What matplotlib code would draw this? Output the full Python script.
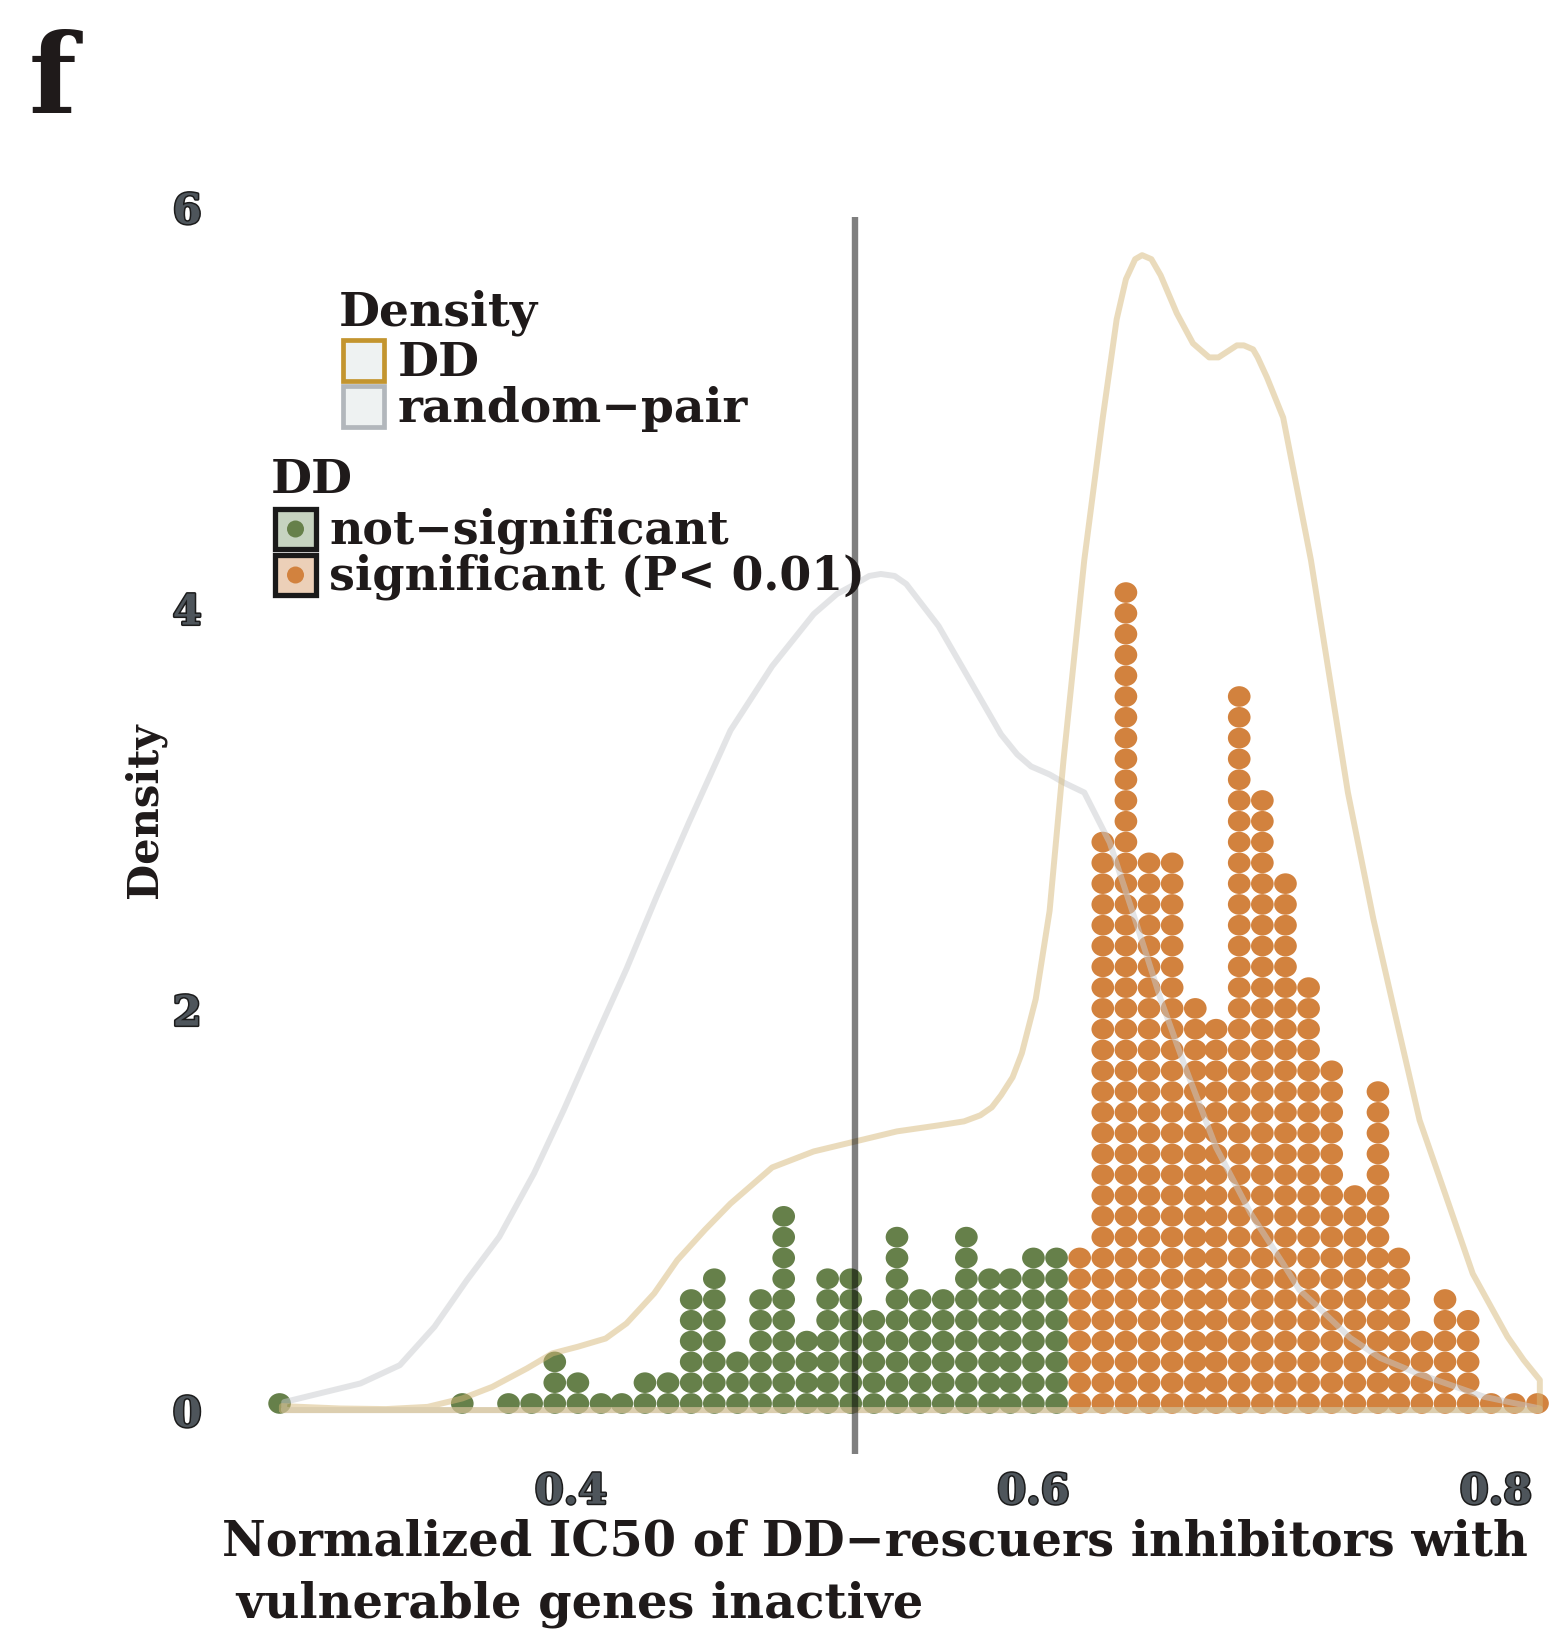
import matplotlib
matplotlib.use("Agg")
import matplotlib.pyplot as plt
import matplotlib.patheffects as pe
from matplotlib.patches import Ellipse, Rectangle, Circle
from matplotlib.transforms import Affine2D

# dot columns: bin centre and number of drugs stacked in it
green_x = [0.274, 0.353, 0.373, 0.383, 0.393, 0.403, 0.413, 0.422, 0.432, 0.442,
           0.452, 0.462, 0.472, 0.482, 0.492, 0.502, 0.511, 0.521, 0.531, 0.541,
           0.551, 0.561, 0.571, 0.581, 0.590, 0.600, 0.610]
green_n = [1, 1, 1, 1, 3, 2, 1, 1, 2, 2,
           6, 7, 3, 6, 10, 4, 7, 7, 5, 9,
           6, 6, 9, 7, 7, 8, 8]
orange_x = [0.620, 0.630, 0.640, 0.650, 0.660, 0.670, 0.679, 0.689, 0.699, 0.709,
            0.719, 0.729, 0.739, 0.749, 0.758, 0.768, 0.778, 0.788, 0.798, 0.808,
            0.818]
orange_n = [8, 28, 40, 27, 27, 20, 19, 35, 30, 26,
            21, 17, 11, 16, 8, 4, 6, 5, 1, 1,
            1]

# density curves
dd_x = [0.275, 0.300, 0.320, 0.338, 0.353, 0.366, 0.381, 0.392, 0.403, 0.415,
        0.424, 0.436, 0.446, 0.458, 0.469, 0.487, 0.505, 0.523, 0.541, 0.559,
        0.570, 0.577, 0.582, 0.586, 0.591, 0.595, 0.601, 0.607, 0.613, 0.622,
        0.630, 0.636, 0.640, 0.644, 0.647, 0.651, 0.655, 0.662, 0.669, 0.676,
        0.680, 0.684, 0.688, 0.691, 0.695, 0.697, 0.701, 0.708, 0.720, 0.736,
        0.747, 0.757, 0.767, 0.777, 0.790, 0.805, 0.812, 0.819]
dd_y = [0.02, 0.008, 0.005, 0.016, 0.058, 0.116, 0.208, 0.283, 0.316, 0.357,
        0.432, 0.582, 0.748, 0.90, 1.03, 1.21, 1.29, 1.34, 1.39, 1.42,
        1.44, 1.47, 1.51, 1.57, 1.66, 1.78, 2.05, 2.49, 3.24, 4.24,
        4.95, 5.44, 5.64, 5.74, 5.76, 5.74, 5.66, 5.47, 5.32, 5.25,
        5.25, 5.28, 5.31, 5.31, 5.29, 5.25, 5.15, 4.95, 4.24, 3.08,
        2.45, 1.945, 1.446, 1.114, 0.68, 0.366, 0.25, 0.15]
rp_x = [0.276, 0.309, 0.326, 0.341, 0.355, 0.369, 0.384, 0.397, 0.410, 0.424,
        0.437, 0.451, 0.469, 0.487, 0.505, 0.515, 0.523, 0.529, 0.534, 0.540,
        0.545, 0.559, 0.572, 0.586, 0.593, 0.599, 0.607, 0.613, 0.622, 0.633,
        0.645, 0.655, 0.665, 0.679, 0.694, 0.708, 0.715, 0.723, 0.737, 0.750,
        0.766, 0.795, 0.819]
rp_y = [0.04, 0.133, 0.224, 0.416, 0.648, 0.864, 1.18, 1.50, 1.84, 2.20,
        2.56, 2.93, 3.39, 3.71, 3.97, 4.07, 4.12, 4.16, 4.17, 4.16,
        4.12, 3.91, 3.65, 3.37, 3.27, 3.21, 3.17, 3.13, 3.08, 2.83,
        2.41, 2.05, 1.73, 1.31, 0.98, 0.73, 0.60, 0.515, 0.36, 0.26,
        0.183, 0.066, 0.008]

cutoff = 0.523
xticks = [0.4, 0.6, 0.8]
yticks = [0, 2, 4, 6]

W, H = 1550, 1634
FONT = "DejaVu Serif"
GREEN = "#66804a"
ORANGE = "#d2823e"

fig = plt.figure(figsize=(W / 100, H / 100), dpi=100)
# pixel coords measured from top-left corner
px = Affine2D().scale(1 / W, -1 / H).translate(0, 1) + fig.transFigure

ax = fig.add_axes([210 / W, (H - 1454) / H, 1 - 210 / W, (1454 - 195) / H])
ax.set_xlim(0.2439, 0.8234)
ax.set_ylim(-0.219, 6.06)

# dot stacks
dot_w, dot_h, step, y0 = 0.0098, 0.103, 0.1037, 0.033
for xs, ns, col in [(green_x, green_n, GREEN), (orange_x, orange_n, ORANGE)]:
    for x, n in zip(xs, ns):
        for k in range(n):
            ax.add_patch(Ellipse((x, y0 + k * step), dot_w, dot_h,
                                 facecolor=col, edgecolor="none", zorder=2))

# density outlines, closed to the baseline
for xs, ys, col in [(rp_x, rp_y, "#c8cbce"), (dd_x, dd_y, "#d6b97a")]:
    ax.plot([xs[0]] + xs + [xs[-1], xs[0]], [0] + ys + [0, 0],
            color=col, alpha=0.5, lw=4.3, solid_joinstyle="round",
            solid_capstyle="round", zorder=3)

ax.vlines(cutoff, -0.219, 5.95, color="black", alpha=0.5, lw=4.6, zorder=4)

for s in ax.spines.values():
    s.set_visible(False)
ax.set_xticks(xticks)
ax.set_yticks(yticks)
ax.set_xticklabels([f"{v:.1f}" for v in xticks])
ax.set_yticklabels([str(v) for v in yticks])
ax.tick_params(length=0, labelsize=30)
ax.tick_params(axis="x", pad=12)
ax.tick_params(axis="y", pad=6)
stroke = [pe.Stroke(linewidth=2.2, foreground="#1c1c1c"), pe.Normal()]
for lab in ax.get_xticklabels() + ax.get_yticklabels():
    lab.set_fontfamily(FONT)
    lab.set_fontweight("bold")
    lab.set_color("#4e555b")
    lab.set_path_effects(stroke)

txt = dict(family=FONT, weight="bold", color="#1f1a1a", transform=px)

fig.text(145, 810, "Density", rotation=90, ha="center", va="center",
         fontsize=30, **txt)
fig.text(222, 1556, "Normalized IC50 of DD\u2212rescuers inhibitors with",
         ha="left", va="baseline", fontsize=34.5, **txt)
fig.text(220, 1618, " vulnerable genes inactive",
         ha="left", va="baseline", fontsize=34.5, **txt)

fig.text(29, 113, "f", ha="left", va="baseline", fontsize=80, **txt)

# legend: density
fig.text(339, 326, "Density", ha="left", va="baseline", fontsize=34, **txt)
for top, lab, edge in [(340, "DD", "#c3952f"), (386, "random\u2212pair", "#b2b7bc")]:
    fig.add_artist(Rectangle((343, top), 41, 41, transform=px, facecolor="#eef2f2",
                             edgecolor=edge, lw=3.4))
    fig.text(398, top + 36, lab, ha="left", va="baseline", fontsize=34, **txt)

# legend: significance
fig.text(271, 493, "DD", ha="left", va="baseline", fontsize=34, **txt)
for top, lab, fill, dot in [(509, "not\u2212significant", "#c6d3c0", GREEN),
                            (555, "significant (P< 0.01)", "#ecd0b8", ORANGE)]:
    fig.add_artist(Rectangle((275, top), 41, 40, transform=px, facecolor=fill,
                             edgecolor="#1a1a1a", lw=3.8))
    fig.add_artist(Circle((295.5, top + 20), 8.5, transform=px, facecolor=dot,
                          edgecolor="none"))
    fig.text(329, top + 34, lab, ha="left", va="baseline", fontsize=33, **txt)

fig.savefig("out.png", dpi=100, facecolor="white")
